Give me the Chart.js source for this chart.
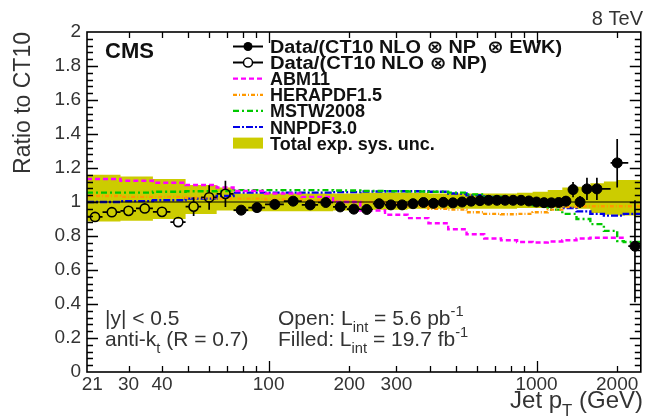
<!DOCTYPE html>
<html><head><meta charset="utf-8">
<script src="https://cdn.jsdelivr.net/npm/chart.js@4.4.1/dist/chart.umd.min.js"></script>
<style>
html,body{margin:0;padding:0;background:#fff;}
#c{display:block;}
</style></head><body>
<canvas id="c" width="647" height="419"></canvas>
<script>
// ---------------- data ----------------
const xTickVals   = [21, 30, 40, 100, 200, 300, 1000, 2000];
const xTickLabels = ['  21', '30', '40', '100', '200', '300', '1000', '2000'];
const xMinorTicks = [30,40,50,60,70,80,90,100,200,300,400,500,600,700,800,900,1000,2000];
const yTickVals   = [0,0.2,0.4,0.6,0.8,1,1.2,1.4,1.6,1.8,2];
const yTickLabels = ['0','0.2','0.4','0.6','0.8','1','1.2','1.4','1.6','1.8','2'];

// open points: Data/(CT10 NLO x NP), low-PU 5.6 pb-1
const openEdges = [21,24,28,32,37,43,49,56,64,74];
const openPt    = [22.5,26,30,34.5,40,46,52.5,60,69];
const openRatio = [0.912,0.940,0.948,0.962,0.942,0.882,0.973,1.027,1.048];
const openErr   = [0.010,0.010,0.010,0.010,0.012,0.015,0.055,0.072,0.077];

// filled points: Data/(CT10 NLO x NP x EWK), 19.7 fb-1
const filledEdges = [74,84,97,114,133,153,174,196,220,245,272,300,330,362,395,430,468,507,548,592,638,686,737,790,846,905,967,1032,1101,1172,1248,1327,1410,1497,1588,1890,2200,2500];
const filledPt    = [79,90.5,105.5,123.5,143,163.5,185,208,232.5,258.5,286,315,346,378.5,412.5,449,487.5,527.5,570,615,662,711.5,763.5,818,875.5,936,999.5,1066.5,1136.5,1210,1287.5,1368.5,1453.5,1542.5,1680,2000,2330];
const filledRatio = [0.952,0.967,0.986,1.005,0.983,0.997,0.971,0.958,0.956,0.990,0.983,0.983,0.990,0.997,0.992,0.998,0.995,1.000,1.005,1.008,1.010,1.010,1.010,1.010,1.010,1.006,1.000,0.996,0.995,0.997,1.005,1.073,1.000,1.077,1.077,1.230,0.740];
const filledErrUp = [0.004,0.004,0.004,0.004,0.004,0.004,0.004,0.004,0.004,0.004,0.004,0.004,0.004,0.004,0.004,0.004,0.005,0.005,0.005,0.006,0.006,0.007,0.008,0.009,0.010,0.012,0.014,0.016,0.020,0.025,0.030,0.045,0.035,0.065,0.065,0.140,0.270];
const filledErrDn = [0.004,0.004,0.004,0.004,0.004,0.004,0.004,0.004,0.004,0.004,0.004,0.004,0.004,0.004,0.004,0.004,0.005,0.005,0.005,0.006,0.006,0.007,0.008,0.009,0.010,0.012,0.014,0.016,0.020,0.025,0.030,0.045,0.035,0.065,0.065,0.145,0.330];

// PDF predictions / CT10 (histograms, value per bin starting at edge)
const pdfEdges  = [21,28,37,49,64,74,97,133,174,220,272,330,395,468,548,638,737,846,967,1101,1248,1410,1588,1784,2000,2116,2500];
const abm11     = [1.135,1.125,1.113,1.100,1.085,1.065,1.050,1.030,1.000,0.950,0.925,0.905,0.875,0.840,0.810,0.785,0.775,0.765,0.762,0.768,0.775,0.785,0.790,0.790,0.790];
const herapdf15 = [1.035,1.030,1.030,1.025,1.020,1.020,1.015,1.010,1.005,1.000,0.990,0.975,0.960,0.955,0.940,0.930,0.928,0.930,0.940,0.955,0.970,0.975,0.975,0.975,0.975,0.975];
const mstw2008  = [1.055,1.055,1.060,1.063,1.065,1.070,1.070,1.070,1.068,1.065,1.063,1.062,1.060,1.055,1.045,1.030,1.015,1.000,0.980,0.955,0.930,0.900,0.870,0.830,0.770,0.765];
const nnpdf30   = [1.000,1.005,1.010,1.020,1.035,1.055,1.055,1.055,1.058,1.062,1.063,1.063,1.060,1.050,1.040,1.030,1.020,1.015,1.010,0.990,0.965,0.945,0.930,0.920,0.920,0.930];
const sysHi     = [1.160,1.150,1.135,1.100,1.085,1.050,1.050,1.050,1.050,1.055,1.055,1.055,1.050,1.050,1.050,1.050,1.050,1.055,1.060,1.070,1.085,1.090,1.110,1.120,1.130,1.130];
const sysLo     = [0.885,0.890,0.900,0.930,0.950,0.945,0.945,0.945,0.950,0.955,0.955,0.960,0.960,0.960,0.960,0.960,0.960,0.965,0.965,0.965,0.965,0.960,0.935,0.925,0.920,0.920];
const refX = [21, 2500];
const refY = [1, 1];

// ---------------- styles ----------------
const FONT = "'Liberation Sans', Arial, 'DejaVu Sans', sans-serif";
const BAND = 'rgb(204,204,0)';
const C_ABM = '#ff00ff', C_HERA = '#ff9900', C_MSTW = '#00c800', C_NNPDF = '#0000e6';
const D_ABM = [5,3], D_HERA = [4,2,1,2], D_MSTW = [6,3,2,3], D_NNPDF = [7,2,2,2];

function hist(edges, vals){
  const p = vals.map((v,i)=>({x:edges[i], y:v}));
  p.push({x:edges[vals.length], y:vals[vals.length-1]});
  return p;
}
function pts(xs, ys){ return xs.map((x,i)=>({x:x, y:ys[i]})); }

const legendRows = [
  {label:'Data/(CT10 NLO \u2297 NP  \u2297 EWK)', kind:'filled', w:292},
  {label:'Data/(CT10 NLO \u2297 NP)', kind:'open', w:217},
  {label:'ABM11', kind:'line', color:C_ABM, dash:D_ABM},
  {label:'HERAPDF1.5', kind:'line', color:C_HERA, dash:D_HERA},
  {label:'MSTW2008', kind:'line', color:C_MSTW, dash:D_MSTW},
  {label:'NNPDF3.0', kind:'line', color:C_NNPDF, dash:D_NNPDF},
  {label:'Total exp. sys. unc.', kind:'box'}
];

function drawRich(ctx, x, y, segs, size, weight, align){
  const f = s => (weight||'') + ' ' + s + 'px ' + FONT;
  let w = 0;
  segs.forEach(s=>{ const sz = s.sub||s.sup ? size*0.7 : size; ctx.font=f(sz); w += ctx.measureText(s.t).width; });
  let cx = align==='right' ? x - w : x;
  ctx.textAlign='left'; ctx.textBaseline='alphabetic';
  segs.forEach(s=>{
    const sz = s.sub||s.sup ? size*0.7 : size;
    ctx.font=f(sz);
    const dy = s.sub ? size*0.32 : (s.sup ? -size*0.42 : 0);
    ctx.fillText(s.t, cx, y+dy);
    cx += ctx.measureText(s.t).width;
  });
}

function drawErrors(chart, xc, lo, hi, yv, eDn, eUp, r, hollow){
  const xs=chart.scales.x, ys=chart.scales.y, ctx=chart.ctx, a=chart.chartArea;
  ctx.save();
  ctx.beginPath(); ctx.rect(a.left,a.top,a.right-a.left,a.bottom-a.top); ctx.clip();
  ctx.strokeStyle='#000'; ctx.lineWidth=1.7; ctx.setLineDash([]);
  ctx.beginPath();
  for(let i=0;i<xc.length;i++){
    const px=xs.getPixelForValue(xc[i]), py=ys.getPixelForValue(yv[i]);
    const xl=xs.getPixelForValue(lo[i]), xh=xs.getPixelForValue(hi[i]);
    const yt=ys.getPixelForValue(yv[i]+eUp[i]), yb=ys.getPixelForValue(yv[i]-eDn[i]);
    const g = hollow ? r : 0;
    if(px-g>xl){ ctx.moveTo(xl,py); ctx.lineTo(px-g,py); }
    if(xh>px+g){ ctx.moveTo(px+g,py); ctx.lineTo(xh,py); }
    if(yb>py+g){ ctx.moveTo(px,py+g); ctx.lineTo(px,yb); }
    if(yt<py-g){ ctx.moveTo(px,py-g); ctx.lineTo(px,yt); }
  }
  ctx.stroke();
  ctx.restore();
}

const decor = {
  id:'decor',
  beforeDatasetDraw(chart, args){
    if(args.index===1) drawErrors(chart, openPt, openEdges.slice(0,-1), openEdges.slice(1), openRatio, openErr, openErr, 4.6, true);
    if(args.index===0) drawErrors(chart, filledPt, filledEdges.slice(0,-1), filledEdges.slice(1), filledRatio, filledErrDn, filledErrUp, 5, false);
  },
  afterDraw(chart){
    const ctx=chart.ctx, a=chart.chartArea, xs=chart.scales.x, ys=chart.scales.y;
    ctx.save();
    ctx.setLineDash([]);
    ctx.strokeStyle='#000'; ctx.lineWidth=1.3;
    // ticks
    ctx.beginPath();
    xMinorTicks.forEach(v=>{
      const px=Math.round(xs.getPixelForValue(v))+0.5;
      const L = (v===100||v===1000) ? 11 : 6;
      ctx.moveTo(px,a.bottom); ctx.lineTo(px,a.bottom-L);
      ctx.moveTo(px,a.top); ctx.lineTo(px,a.top+L);
    });
    for(let k=1;k<50;k++){
      const v=k*0.04;
      const py=Math.round(ys.getPixelForValue(v))+0.5;
      const L = (k%5===0) ? 11 : 6;
      ctx.moveTo(a.left,py); ctx.lineTo(a.left+L,py);
      ctx.moveTo(a.right,py); ctx.lineTo(a.right-L,py);
    }
    ctx.stroke();
    // frame
    ctx.lineWidth=1.6;
    ctx.strokeRect(a.left, a.top, a.right-a.left, a.bottom-a.top);

    // legend
    const lx0=233, lx1=263, tx=270;
    legendRows.forEach((row,i)=>{
      const cy = 46.5 + 16.1*i;
      ctx.setLineDash([]);
      if(row.kind==='filled'){
        ctx.strokeStyle='#000'; ctx.lineWidth=2;
        ctx.beginPath(); ctx.moveTo(lx0,cy); ctx.lineTo(lx1,cy); ctx.stroke();
        ctx.fillStyle='#000'; ctx.beginPath(); ctx.arc(248,cy,4.5,0,Math.PI*2); ctx.fill();
      } else if(row.kind==='open'){
        ctx.strokeStyle='#000'; ctx.lineWidth=2;
        ctx.beginPath(); ctx.moveTo(lx0,cy); ctx.lineTo(243.5,cy); ctx.moveTo(252.5,cy); ctx.lineTo(lx1,cy); ctx.stroke();
        ctx.lineWidth=1.5; ctx.beginPath(); ctx.arc(248,cy,4.5,0,Math.PI*2); ctx.stroke();
      } else if(row.kind==='line'){
        ctx.strokeStyle=row.color; ctx.lineWidth=2.2; ctx.setLineDash(row.dash);
        ctx.beginPath(); ctx.moveTo(lx0,cy); ctx.lineTo(lx1,cy); ctx.stroke();
        ctx.setLineDash([]);
      } else {
        ctx.fillStyle=BAND; ctx.fillRect(lx0, cy-5.5, lx1-lx0, 11);
      }
      ctx.fillStyle='#111';
      ctx.font = 'bold 18px ' + FONT;
      const natural = ctx.measureText(row.label).width;
      const sx = row.w ? row.w / natural : 1;
      ctx.save();
      ctx.translate(tx, cy+6.5); ctx.scale(sx, 1);
      drawRich(ctx, 0, 0, [{t:row.label}], 18, 'bold');
      ctx.restore();
    });

    // texts
    ctx.fillStyle='#111';
    drawRich(ctx, 105, 58, [{t:'CMS'}], 22, 'bold');
    ctx.fillStyle='#333';
    drawRich(ctx, 643, 25, [{t:'8 TeV'}], 20, '', 'right');
    drawRich(ctx, 105, 325, [{t:'|y| < 0.5'}], 21, '');
    drawRich(ctx, 105, 346, [{t:'anti-k'},{t:'t',sub:true},{t:' (R = 0.7)'}], 21, '');
    drawRich(ctx, 278, 325, [{t:'Open: L'},{t:'int',sub:true},{t:' = 5.6 pb'},{t:'-1',sup:true}], 21, '');
    drawRich(ctx, 278, 346, [{t:'Filled: L'},{t:'int',sub:true},{t:' = 19.7 fb'},{t:'-1',sup:true}], 21, '');
    drawRich(ctx, 643, 408, [{t:'Jet p'},{t:'T',sub:true},{t:' (GeV)'}], 24, '', 'right');
    // y title
    ctx.save();
    ctx.translate(30, 32); ctx.rotate(-Math.PI/2);
    ctx.font = '23px ' + FONT; ctx.textAlign='right'; ctx.textBaseline='alphabetic';
    ctx.fillText('Ratio to CT10', 0, 0);
    ctx.restore();
    ctx.restore();
  }
};

const lineBase = {pointRadius:0, fill:false, stepped:true, borderWidth:2.4};

new Chart(document.getElementById('c').getContext('2d'), {
  type:'line',
  data:{datasets:[
    {label:'Data/(CT10 NLO ⊗ NP ⊗ EWK)', data:pts(filledPt, filledRatio), showLine:false, pointStyle:'circle', pointRadius:5, pointBackgroundColor:'#000', pointBorderColor:'#000', pointBorderWidth:1},
    {label:'Data/(CT10 NLO ⊗ NP)', data:pts(openPt, openRatio), showLine:false, pointStyle:'circle', pointRadius:4.6, pointBackgroundColor:'rgba(0,0,0,0)', pointBorderColor:'#000', pointBorderWidth:1.6},
    {label:'CT10', data:pts(refX, refY), pointRadius:0, fill:false, borderColor:'#000', borderWidth:1.2},
    Object.assign({label:'ABM11', data:hist(pdfEdges, abm11), borderColor:C_ABM, borderDash:D_ABM}, lineBase),
    Object.assign({label:'HERAPDF1.5', data:hist(pdfEdges, herapdf15), borderColor:C_HERA, borderDash:D_HERA}, lineBase),
    Object.assign({label:'MSTW2008', data:hist(pdfEdges, mstw2008), borderColor:C_MSTW, borderDash:D_MSTW}, lineBase),
    Object.assign({label:'NNPDF3.0', data:hist(pdfEdges, nnpdf30), borderColor:C_NNPDF, borderDash:D_NNPDF}, lineBase),
    {label:'Total exp. sys. unc.', data:hist(pdfEdges, sysHi), pointRadius:0, stepped:true, borderWidth:0, borderColor:'rgba(0,0,0,0)', backgroundColor:BAND, fill:'+1'},
    {label:'sysLo', data:hist(pdfEdges, sysLo), pointRadius:0, stepped:true, borderWidth:0, borderColor:'rgba(0,0,0,0)', fill:false}
  ]},
  options:{
    responsive:false, animation:false, devicePixelRatio:1, events:[],
    layout:{padding:{left:0, right:4, top:32, bottom:0}},
    plugins:{legend:{display:false}, tooltip:{enabled:false}},
    scales:{
      x:{type:'logarithmic', min:21, max:2450,
         afterBuildTicks(s){ s.ticks = xTickVals.map(v=>({value:v})); },
         afterFit(s){ s.height = 47; },
         grid:{display:false, drawTicks:false}, border:{display:false},
         ticks:{autoSkip:false, maxRotation:0, minRotation:0, padding:1, color:'#333', font:{family:FONT, size:19},
                callback:(v,i)=>xTickLabels[i]}},
      y:{type:'linear', min:0, max:2,
         afterBuildTicks(s){ s.ticks = yTickVals.map(v=>({value:v})); },
         afterFit(s){ s.width = 87; },
         grid:{display:false, drawTicks:false}, border:{display:false},
         ticks:{padding:6, color:'#333', font:{family:FONT, size:19},
                callback:(v,i)=>yTickLabels[i]}}
    }
  },
  plugins:[decor]
});
</script>
</body></html>
